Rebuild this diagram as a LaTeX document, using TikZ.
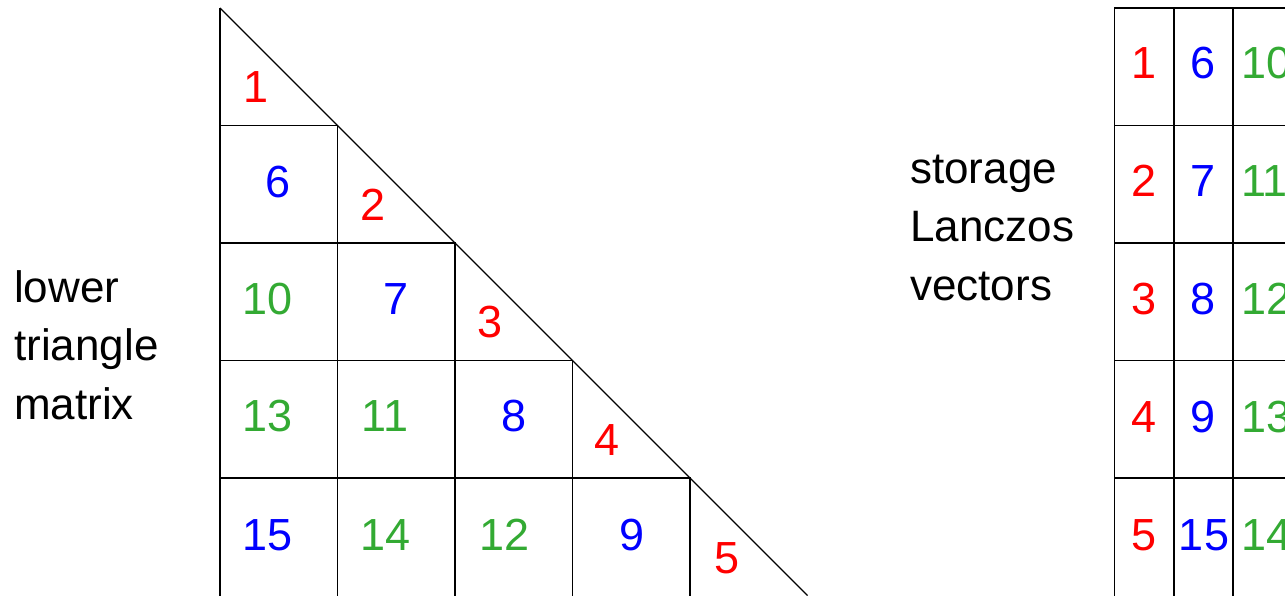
\documentclass[tikz,border=0pt]{standalone}
\usepackage{fontspec}
\setmainfont{Liberation Sans}
\definecolor{cred}{RGB}{255,0,0}
\definecolor{cblue}{RGB}{0,0,255}
\definecolor{cgreen}{RGB}{51,170,51}
\begin{document}
\begin{tikzpicture}[x=1pt,y=-1pt,
  gridline/.style={line width=1.4pt,black},
  num/.style={inner sep=0pt,font=\fontsize{45}{54}\selectfont},
  rn/.style={num,text=cred},
  bn/.style={num,text=cblue},
  gn/.style={num,text=cgreen},
  lbl/.style={inner sep=0pt,align=left,anchor=base west,font=\fontsize{44}{58.5}\selectfont}]
\useasboundingbox (0,0) rectangle (1285,596);
\clip (0,0) rectangle (1285,596);
% corner coordinates of the triangle
\coordinate (t0) at (220,8);
\coordinate (t1) at (337.5,125.5);
\coordinate (t2) at (455,243);
\coordinate (t3) at (572.5,360.5);
\coordinate (t4) at (690,478);
\coordinate (t5) at (807.5,595.5);
% triangle lines
\draw[gridline] (t0) -- (t5);
\draw[gridline] (t0) -- (220,600);
\draw[gridline] (220,125.5) -- (t1) -- (337.5,600);
\draw[gridline] (220,243) -- (t2) -- (455,600);
\draw[gridline] (220,360.5) -- (t3) -- (572.5,600);
\draw[gridline] (220,478) -- (t4) -- (690,600);
% right grid
\draw[gridline] (1114.5,600) -- (1114.5,8) -- (1290,8);
\draw[gridline] (1174,8) -- (1174,600);
\draw[gridline] (1233,8) -- (1233,600);
\foreach \yy in {125.5,243,360.5,478}
  \draw[gridline] (1114.5,\yy) -- (1290,\yy);
% triangle numbers
\node[rn] (a1) at (256,87) {1};
\node[bn] (a6) at (278,182) {6};
\node[rn] (a2) at (373,205) {2};
\node[gn] (a10) at (268,299) {10};
\node[bn] (a7) at (396,299) {7};
\node[rn] (a3) at (490,322) {3};
\node[gn] (a13) at (268,416) {13};
\node[gn] (a11) at (385,416) {11};
\node[bn] (a8) at (514,416) {8};
\node[rn] (a4) at (607,440) {4};
\node[bn] (a15) at (268,535) {15};
\node[gn] (a14) at (386,535) {14};
\node[gn] (a12) at (505,535) {12};
\node[bn] (a9) at (632,535) {9};
\node[rn] (a5) at (727,558) {5};
% storage numbers
\node[rn] (b1) at (1144,63) {1};
\node[bn] (b6) at (1203,63) {6};
\node[gn,anchor=west] (b10) at (1241,63) {10};
\node[rn] (b2) at (1144,181) {2};
\node[bn] (b7) at (1203,181) {7};
\node[gn,anchor=west] (b11) at (1241,181) {11};
\node[rn] (b3) at (1144,299) {3};
\node[bn] (b8) at (1203,299) {8};
\node[gn,anchor=west] (b12) at (1241,299) {12};
\node[rn] (b4) at (1144,417) {4};
\node[bn] (b9) at (1203,417) {9};
\node[gn,anchor=west] (b13) at (1241,417) {13};
\node[rn] (b5) at (1144,535) {5};
\node[bn] (b15) at (1204,535) {15};
\node[gn,anchor=west] (b14) at (1241,535) {14};
% labels
\node[lbl] (lt) at (14,419) {lower\\triangle\\matrix};
\node[lbl] (ls) at (910,300) {storage\\Lanczos\\vectors};
\end{tikzpicture}
\end{document}
